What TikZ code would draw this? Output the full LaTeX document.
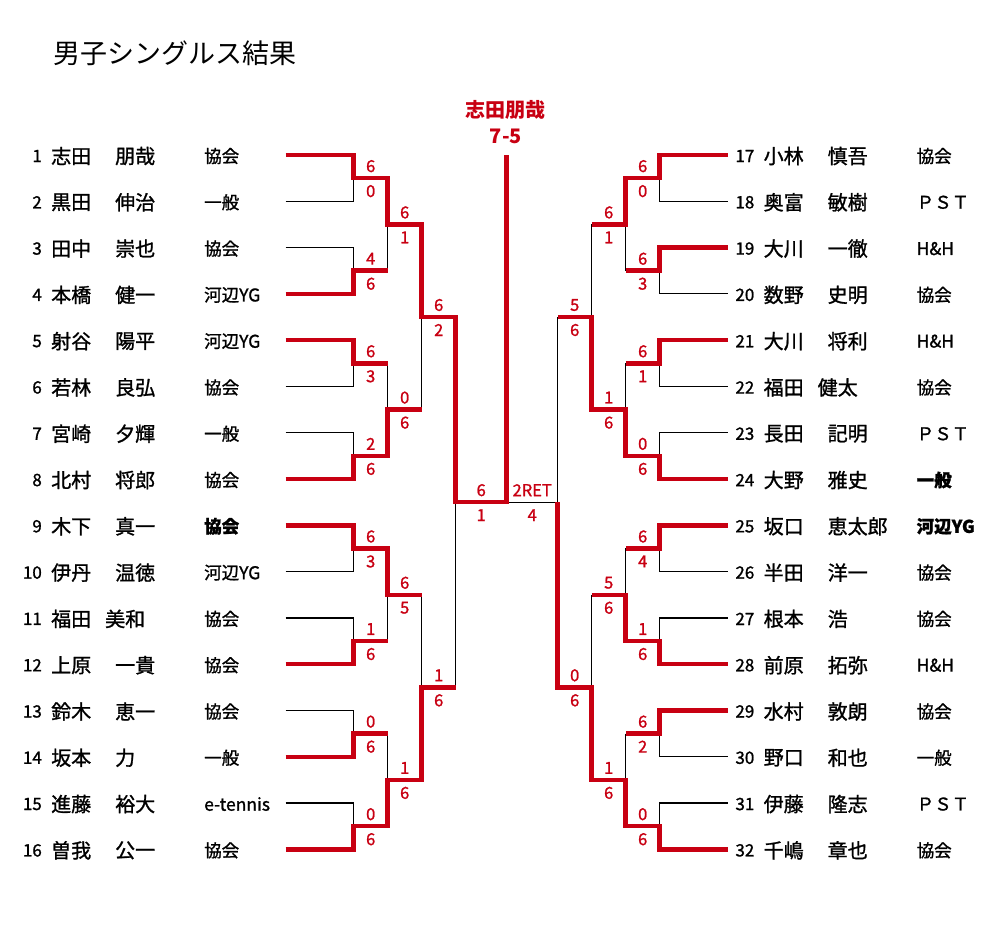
\documentclass[tikz,border=0pt]{standalone}
\usepackage{fontspec}
\setmainfont{Noto Sans CJK JP}
\newfontfamily\gfont{Noto Sans CJK JP}[FakeBold=1.2]
\definecolor{wred}{RGB}{200,0,18}
\pgfdeclarelayer{bg}
\pgfsetlayers{bg,main}
\begin{document}
\begin{tikzpicture}[x=1pt,y=-1pt,
    every node/.style={inner sep=0pt},
    win/.style={draw=wred,line width=4.5pt,line join=miter},
    lose/.style={draw=black,line width=1.2pt},
    score/.style={text=wred,font=\gfont\fontsize{16.5}{16}\selectfont},
    pname/.style={anchor=west,font=\gfont\fontsize{20}{22}\selectfont},
    pnum/.style={anchor=east,font=\gfont\fontsize{17}{20}\selectfont},
    club/.style={anchor=west,font=\gfont\fontsize{17.5}{20}\selectfont},
    champ/.style={text=wred,font=\fontsize{20}{22}\selectfont\bfseries}]
  \useasboundingbox (0,0) rectangle (1006,939);
  \node[anchor=west,font=\fontsize{27}{30}\selectfont] (title) at (53,53) {男子シングルス結果};
  %players
  \foreach \i/\sn/\gn/\gx/\cl in {1/志田/朋哉/64/協会, 2/黒田/伸治/64/一般,
      3/田中/崇也/64/協会, 4/本橋/健一/64/河辺YG, 5/射谷/陽平/64/河辺YG,
      6/若林/良弘/64/協会, 7/宮崎/夕輝/64/一般, 8/北村/将郎/64/協会,
      9/木下/真一/64/\textbf{協会}, 10/伊丹/温徳/64/河辺YG, 11/福田/美和/54/協会,
      12/上原/一貴/64/協会, 13/鈴木/恵一/64/協会, 14/坂本/力/64/一般,
      15/進藤/裕大/64/e-tennis, 16/曽我/公一/64/協会,
      17/小林/慎吾/64/協会, 18/奥富/敏樹/64/ＰＳＴ, 19/大川/一徹/64/H\&H,
      20/数野/史明/64/協会, 21/大川/将利/64/H\&H, 22/福田/健太/54/協会,
      23/長田/記明/64/ＰＳＴ, 24/大野/雅史/64/\textbf{一般}, 25/坂口/恵太郎/64/\textbf{河辺YG},
      26/半田/洋一/64/協会, 27/根本/浩/64/協会, 28/前原/拓弥/64/H\&H,
      29/水村/敦朗/64/協会, 30/野口/和也/64/一般, 31/伊藤/隆志/64/ＰＳＴ,
      32/千嶋/章也/64/協会}{
    \pgfmathsetmacro\py{156+46.29*mod(\i-1,16)}
    \pgfmathsetmacro\px{\i>16 ? 712.5 : 0}
    \node[pnum] (n\i) at (\px+42,\py) {\i};
    \node[pname] (sn\i) at (\px+51,\py) {\sn};
    \node[pname] (gn\i) at (\px+51+\gx,\py) {\gn};
    \node[club] (cl\i) at (\px+204,\py) {\cl};
  }
  %matches: side/round/first row/top won/scores
  \foreach \sg/\r/\a/\w/\st/\sb in {1/1/1/1/6/0, 1/1/3/0/4/6, 1/1/5/1/6/3, 1/1/7/0/2/6,
      1/1/9/1/6/3, 1/1/11/0/1/6, 1/1/13/0/0/6, 1/1/15/0/0/6,
      1/2/1/1/6/1, 1/2/5/0/0/6, 1/2/9/1/6/5, 1/2/13/0/1/6,
      1/3/1/1/6/2, 1/3/9/0/1/6, 1/4/1/1/6/1,
      -1/1/1/1/6/0, -1/1/3/1/6/3, -1/1/5/1/6/1, -1/1/7/0/0/6,
      -1/1/9/1/6/4, -1/1/11/0/1/6, -1/1/13/1/6/2, -1/1/15/0/0/6,
      -1/2/1/1/6/1, -1/2/5/0/1/6, -1/2/9/0/5/6, -1/2/13/0/1/6,
      -1/3/1/0/5/6, -1/3/9/0/0/6, -1/4/1/0/2RET/4}{
    \pgfmathsetmacro\h{2^(\r-1)}
    \pgfmathsetmacro\yt{155+46.29*(\a-1+(\h-1)/2)}
    \pgfmathsetmacro\yb{\yt+46.29*\h}
    \pgfmathsetmacro\ym{(\yt+\yb)/2}
    \pgfmathsetmacro\yw{\w==1 ? \yt : \yb}
    \pgfmathsetmacro\yl{\w==1 ? \yb : \yt}
    \pgfmathsetmacro\xv{506.7-\sg*(187-34*\r)}
    \pgfmathsetmacro\xp{506.7-\sg*(\r==1 ? 221 : 221-34*\r)}
    \pgfmathsetmacro\xn{506.7-\sg*(\r<4 ? 153-34*\r : 0)}
    \pgfmathsetmacro\xq{\r==1 ? \xp : \xv}
    \begin{pgfonlayer}{bg}
      \draw[lose] (\xq,\yl) -- (\xv,\yl) -- (\xv,\ym);
    \end{pgfonlayer}
    \ifnum\r<4
      \draw[win] (\xp,\yw) -- (\xv,\yw) -- (\xv,\ym) -- (\xn,\ym);
    \else
      \draw[win] (\xp,\yw) -- (\xv,\yw) -- (\xv,\ym);
    \fi
    \node[score] (s\sg\r\a t) at ({(\xv+\xn)/2},\ym-12) {\st};
    \node[score] (s\sg\r\a b) at ({(\xv+\xn)/2},\ym+13) {\sb};
  }
  %final
  \coordinate (fL) at (455.7,502.2);
  \coordinate (fC) at (506.7,502.2);
  \coordinate (fR) at (557.7,502.2);
  \coordinate (ftop) at (506.7,155);
  \draw[win] (455.7,317.1) -- (fL) -- (fC) -- (ftop);
  \begin{pgfonlayer}{bg}
    \draw[lose] (fC) -- (fR);
  \end{pgfonlayer}
  \node[champ] (winner) at (505,110) {志田朋哉};
  \node[champ] (fscore) at (506,136) {7-5};
\end{tikzpicture}
\end{document}
